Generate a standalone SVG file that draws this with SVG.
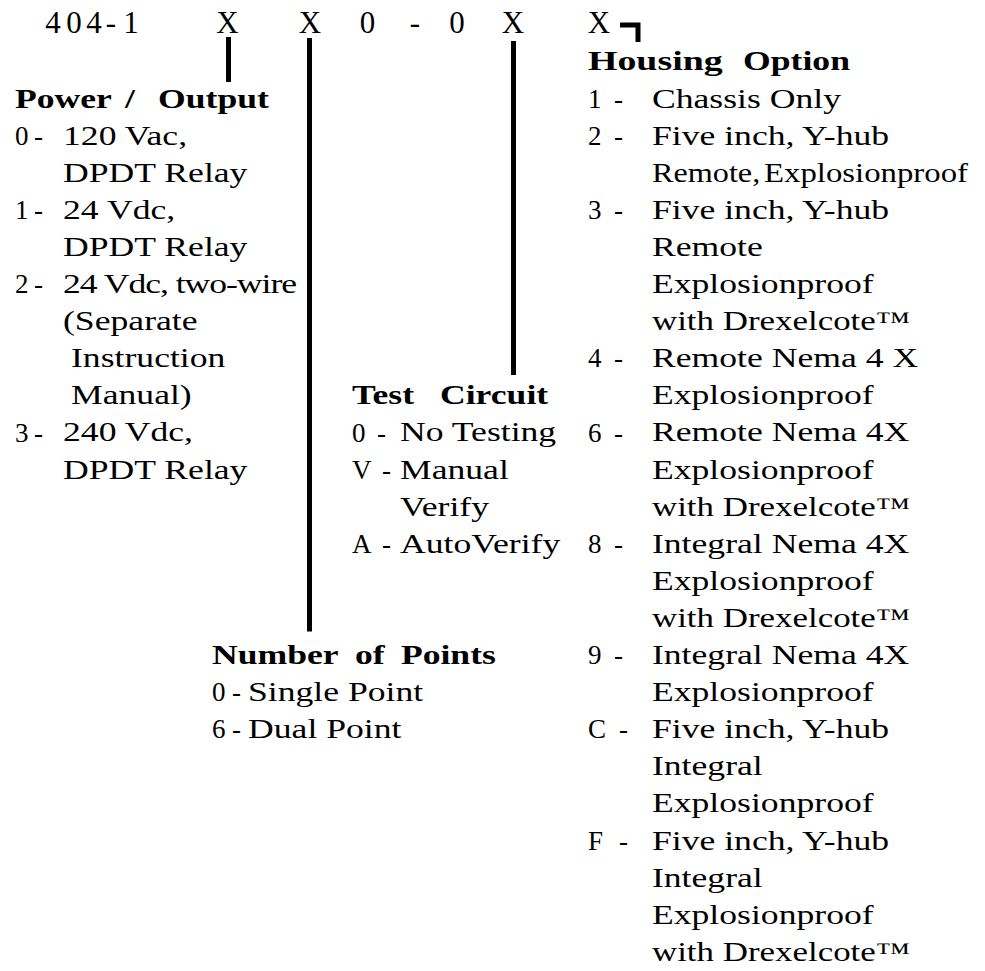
<svg xmlns="http://www.w3.org/2000/svg" width="985" height="971" viewBox="0 0 985 971">
<style>
text{font-family:"Liberation Serif","Times New Roman",serif;fill:#000}
.hd{font-size:31px;text-anchor:middle}
.t{font-size:27px}
.b{font-size:27px;font-weight:bold}
.ln{stroke:#000;stroke-width:5;fill:none}
</style>
<rect width="985" height="971" fill="#fff"/>
<g id="code">
<text class="hd" x="53" y="33">4</text>
<text class="hd" x="74" y="33">0</text>
<text class="hd" x="94" y="33">4</text>
<text class="hd" x="111" y="33">-</text>
<text class="hd" x="131" y="33">1</text>
<text class="hd" x="227.5" y="33">X</text>
<text class="hd" x="310" y="33">X</text>
<text class="hd" x="367.5" y="33">0</text>
<text class="hd" x="415" y="33">-</text>
<text class="hd" x="457" y="33">0</text>
<text class="hd" x="513" y="33">X</text>
<text class="hd" x="599" y="33">X</text>
</g>
<g id="connectors">
<line class="ln" x1="228.5" y1="37" x2="228.5" y2="82"/>
<line class="ln" x1="309.5" y1="38" x2="309.5" y2="631.5"/>
<line class="ln" x1="513.5" y1="41" x2="513.5" y2="375"/>
<path class="ln" stroke-width="4" d="M620 25H638V42"/>
</g>
<g id="power">
<g transform="scale(1.32 1)">
<text class="b" x="11.36" y="107.6">Power</text>
<text class="b" x="94.7" y="107.6">/</text>
<text class="b" x="119.7" y="107.6">Output</text>
<text class="t" x="47.73" y="144.7">120 Vac,</text>
<text class="t" x="47.73" y="181.8">DPDT Relay</text>
<text class="t" x="47.73" y="218.9">24 Vdc,</text>
<text class="t" x="47.73" y="256">DPDT Relay</text>
<text class="t" x="47.73" y="293.1" textLength="177.3" lengthAdjust="spacing">24 Vdc, two-wire</text>
<text class="t" x="47.73" y="330.2">(Separate</text>
<text class="t" x="53.79" y="367.3">Instruction</text>
<text class="t" x="53.79" y="404.4">Manual)</text>
<text class="t" x="47.73" y="441.5">240 Vdc,</text>
<text class="t" x="47.73" y="478.6">DPDT Relay</text>
</g>
<text class="t" x="15" y="144.7">0<tspan x="34">-</tspan></text>
<text class="t" x="15" y="218.9">1<tspan x="34">-</tspan></text>
<text class="t" x="15" y="293.1">2<tspan x="34">-</tspan></text>
<text class="t" x="15" y="441.5">3<tspan x="34">-</tspan></text>
</g>
<g id="test">
<g transform="scale(1.32 1)">
<text class="b" x="266.67" y="404.4">Test</text>
<text class="b" x="333.33" y="404.4">Circuit</text>
<text class="t" x="303.03" y="441.5">No Testing</text>
<text class="t" x="303.03" y="478.6">Manual</text>
<text class="t" x="303.03" y="515.7">Verify</text>
<text class="t" x="303.03" y="552.8">AutoVerify</text>
</g>
<text class="t" x="352" y="441.5">0<tspan x="377">-</tspan></text>
<text class="t" x="352" y="478.6">V<tspan x="382">-</tspan></text>
<text class="t" x="352" y="552.8">A<tspan x="382">-</tspan></text>
</g>
<g id="points">
<g transform="scale(1.32 1)">
<text class="b" x="160.6" y="664.1">Number</text>
<text class="b" x="268.9" y="664.1">of</text>
<text class="b" x="303.7" y="664.1">Points</text>
<text class="t" x="187.9" y="701.2">Single Point</text>
<text class="t" x="187.9" y="738.3">Dual Point</text>
</g>
<text class="t" x="212" y="701.2">0<tspan x="232">-</tspan></text>
<text class="t" x="212" y="738.3">6<tspan x="232">-</tspan></text>
</g>
<g id="housing">
<g transform="scale(1.32 1)">
<text class="b" x="445.45" y="70.5" textLength="102" lengthAdjust="spacingAndGlyphs">Housing</text>
<text class="b" x="562.9" y="70.5">Option</text>
<text class="t" x="493.9" y="107.6">Chassis Only</text>
<text class="t" x="493.9" y="144.7">Five inch, Y-hub</text>
<text class="t" x="493.9" y="181.8" textLength="82" lengthAdjust="spacingAndGlyphs">Remote,</text>
<text class="t" x="578.8" y="181.8" font-size="26" textLength="154.5" lengthAdjust="spacingAndGlyphs">Explosionproof</text>
<text class="t" x="493.9" y="218.9">Five inch, Y-hub</text>
<text class="t" x="493.9" y="256">Remote</text>
<text class="t" x="493.9" y="293.1">Explosionproof</text>
<text class="t" x="493.9" y="330.2" textLength="195.5" lengthAdjust="spacingAndGlyphs">with Drexelcote™</text>
<text class="t" x="493.9" y="367.3">Remote Nema 4 X</text>
<text class="t" x="493.9" y="404.4">Explosionproof</text>
<text class="t" x="493.9" y="441.5">Remote Nema 4X</text>
<text class="t" x="493.9" y="478.6">Explosionproof</text>
<text class="t" x="493.9" y="515.7" textLength="195.5" lengthAdjust="spacingAndGlyphs">with Drexelcote™</text>
<text class="t" x="493.9" y="552.8">Integral Nema 4X</text>
<text class="t" x="493.9" y="589.9">Explosionproof</text>
<text class="t" x="493.9" y="627" textLength="195.5" lengthAdjust="spacingAndGlyphs">with Drexelcote™</text>
<text class="t" x="493.9" y="664.1">Integral Nema 4X</text>
<text class="t" x="493.9" y="701.2">Explosionproof</text>
<text class="t" x="493.9" y="738.3">Five inch, Y-hub</text>
<text class="t" x="493.9" y="775.4">Integral</text>
<text class="t" x="493.9" y="812.5">Explosionproof</text>
<text class="t" x="493.9" y="849.6">Five inch, Y-hub</text>
<text class="t" x="493.9" y="886.7">Integral</text>
<text class="t" x="493.9" y="923.8">Explosionproof</text>
<text class="t" x="493.9" y="960.9" textLength="195.5" lengthAdjust="spacingAndGlyphs">with Drexelcote™</text>
</g>
<text class="t" x="588" y="107.6">1<tspan x="614">-</tspan></text>
<text class="t" x="588" y="144.7">2<tspan x="614">-</tspan></text>
<text class="t" x="588" y="218.9">3<tspan x="614">-</tspan></text>
<text class="t" x="588" y="367.3">4<tspan x="614">-</tspan></text>
<text class="t" x="588" y="441.5">6<tspan x="614">-</tspan></text>
<text class="t" x="588" y="552.8">8<tspan x="614">-</tspan></text>
<text class="t" x="588" y="664.1">9<tspan x="614">-</tspan></text>
<text class="t" x="588" y="738.3">C<tspan x="619">-</tspan></text>
<text class="t" x="588" y="849.6">F<tspan x="619">-</tspan></text>
</g>
</svg>
